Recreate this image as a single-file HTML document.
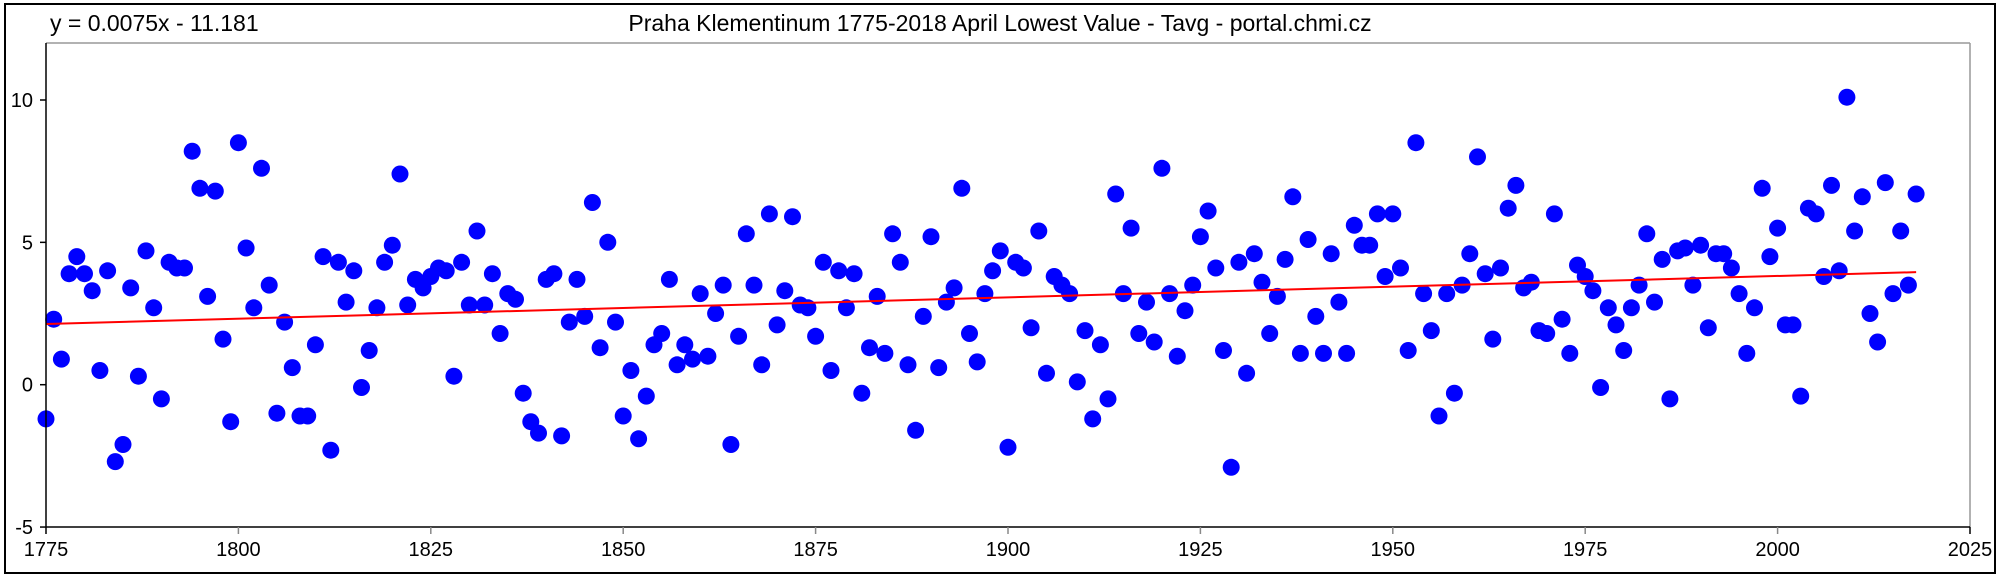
<!DOCTYPE html>
<html><head><meta charset="utf-8"><style>
html,body{margin:0;padding:0;background:#fff;}
svg{display:block;font-family:"Liberation Sans",Arial,sans-serif;}
</style></head><body>
<svg id="c" width="2000" height="577" viewBox="0 0 2000 577" xmlns="http://www.w3.org/2000/svg">
<rect x="0" y="0" width="2000" height="577" fill="#fff"/>
<rect x="5" y="4" width="1990" height="569" fill="none" stroke="#000" stroke-width="2"/>
<text x="50" y="31" font-size="23">y = 0.0075x - 11.181</text>
<text x="1000" y="31" font-size="23" text-anchor="middle">Praha Klementinum 1775-2018 April Lowest Value - Tavg - portal.chmi.cz</text>
<line x1="46" y1="43" x2="1970" y2="43" stroke="#999" stroke-width="1.5"/>
<line x1="1970" y1="43" x2="1970" y2="527" stroke="#999" stroke-width="1.5"/>
<g id="pts" fill="#0000ff"></g>
<line x1="46" y1="527" x2="1970" y2="527" stroke="#000" stroke-width="1.5"/>
<line x1="46" y1="43" x2="46" y2="527" stroke="#000" stroke-width="1.5"/>
<g id="ax" font-size="20"></g>
</svg>
<script>
var v=[-1.2,2.3,0.9,3.9,4.5,3.9,3.3,0.5,4.0,-2.7,-2.1,3.4,0.3,4.7,2.7,-0.5,4.3,4.1,4.1,8.2,6.9,3.1,6.8,1.6,-1.3,8.5,4.8,2.7,7.6,3.5,-1.0,2.2,0.6,-1.1,-1.1,1.4,4.5,-2.3,4.3,2.9,4.0,-0.1,1.2,2.7,4.3,4.9,7.4,2.8,3.7,3.4,3.8,4.1,4.0,0.3,4.3,2.8,5.4,2.8,3.9,1.8,3.2,3.0,-0.3,-1.3,-1.7,3.7,3.9,-1.8,2.2,3.7,2.4,6.4,1.3,5.0,2.2,-1.1,0.5,-1.9,-0.4,1.4,1.8,3.7,0.7,1.4,0.9,3.2,1.0,2.5,3.5,-2.1,1.7,5.3,3.5,0.7,6.0,2.1,3.3,5.9,2.8,2.7,1.7,4.3,0.5,4.0,2.7,3.9,-0.3,1.3,3.1,1.1,5.3,4.3,0.7,-1.6,2.4,5.2,0.6,2.9,3.4,6.9,1.8,0.8,3.2,4.0,4.7,-2.2,4.3,4.1,2.0,5.4,0.4,3.8,3.5,3.2,0.1,1.9,-1.2,1.4,-0.5,6.7,3.2,5.5,1.8,2.9,1.5,7.6,3.2,1.0,2.6,3.5,5.2,6.1,4.1,1.2,-2.9,4.3,0.4,4.6,3.6,1.8,3.1,4.4,6.6,1.1,5.1,2.4,1.1,4.6,2.9,1.1,5.6,4.9,4.9,6.0,3.8,6.0,4.1,1.2,8.5,3.2,1.9,-1.1,3.2,-0.3,3.5,4.6,8.0,3.9,1.6,4.1,6.2,7.0,3.4,3.6,1.9,1.8,6.0,2.3,1.1,4.2,3.8,3.3,-0.1,2.7,2.1,1.2,2.7,3.5,5.3,2.9,4.4,-0.5,4.7,4.8,3.5,4.9,2.0,4.6,4.6,4.1,3.2,1.1,2.7,6.9,4.5,5.5,2.1,2.1,-0.4,6.2,6.0,3.8,7.0,4.0,10.1,5.4,6.6,2.5,1.5,7.1,3.2,5.4,3.5,6.7];
function X(y){return 46+(y-1775)*7.696;}
function Y(t){return 384.7-t*28.47;}
var s='';
for(var i=0;i<v.length;i++){s+='<circle cx="'+X(1775+i).toFixed(1)+'" cy="'+Y(v[i]).toFixed(1)+'" r="8.5"/>';}
s+='<line x1="'+X(1775)+'" y1="'+Y(0.0075*1775-11.181)+'" x2="'+X(2018)+'" y2="'+Y(0.0075*2018-11.181)+'" stroke="#ff0000" stroke-width="2"/>';
document.getElementById('pts').innerHTML=s;
var a='';
[-5,0,5,10].forEach(function(t){var y=Y(t);a+='<line x1="40" y1="'+y+'" x2="46" y2="'+y+'" stroke="#000" stroke-width="1.5"/><text x="33" y="'+(y+7)+'" text-anchor="end">'+t+'</text>';});
for(var yr=1775;yr<=2025;yr+=25){var x=X(yr);a+='<line x1="'+x+'" y1="527" x2="'+x+'" y2="534" stroke="'+((yr==1775||yr==2025)?'#000':'#888')+'" stroke-width="1.5"/><text x="'+x+'" y="556" text-anchor="middle">'+yr+'</text>';}
document.getElementById('ax').innerHTML=a;
</script>
</body></html>
